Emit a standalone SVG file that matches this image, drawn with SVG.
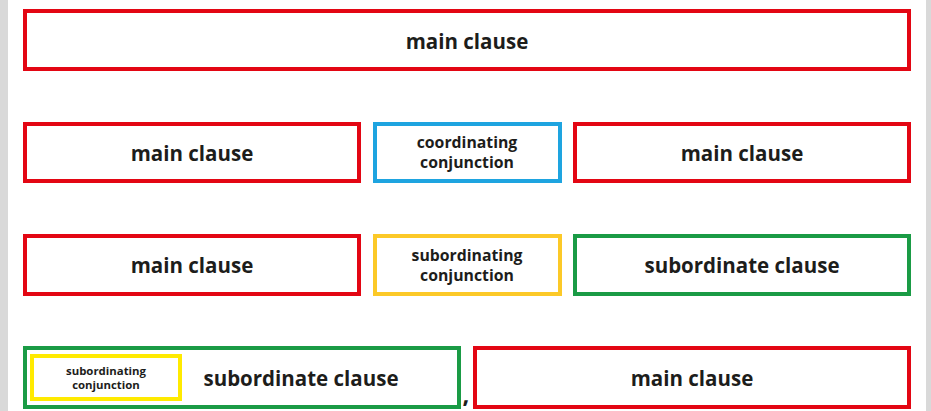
<svg xmlns="http://www.w3.org/2000/svg" width="931" height="411" viewBox="0 0 931 411">
<style>
.box{fill:#fff;stroke-width:4}
.red{stroke:#e30613}
.blue{stroke:#1ea4e0}
.yel{stroke:#fcc928}
.yel2{stroke:#ffea00}
.grn{stroke:#1a9b45}
text{font-family:"Open Sans","Noto Sans",sans-serif;font-weight:700;fill:#1d1d1b;text-anchor:middle}
.big{font-size:20.5px}
.mid{font-size:15.8px}
.sm{font-size:11.4px}
</style>
<rect x="0" y="0" width="931" height="411" fill="#fff"/>
<rect x="0" y="0" width="8" height="411" fill="#d9d9d9"/>
<rect x="926" y="0" width="5" height="411" fill="#d9d9d9"/>
<g id="n1"><rect class="box red" x="25" y="11" width="884" height="58"/><text class="big" x="467" y="49">main clause</text></g>
<g id="n2"><rect class="box red" x="25" y="124" width="334" height="57"/><text class="big" x="192" y="161">main clause</text></g>
<g id="n3"><rect class="box blue" x="375" y="124" width="185" height="57"/><text class="mid" x="467" y="148">coordinating</text><text class="mid" x="467" y="168">conjunction</text></g>
<g id="n4"><rect class="box red" x="575" y="124" width="334" height="57"/><text class="big" x="742" y="161">main clause</text></g>
<g id="n5"><rect class="box red" x="25" y="236" width="334" height="58"/><text class="big" x="192" y="273">main clause</text></g>
<g id="n6"><rect class="box yel" x="375" y="236" width="185" height="58"/><text class="mid" x="467" y="261">subordinating</text><text class="mid" x="467" y="281">conjunction</text></g>
<g id="n7"><rect class="box grn" x="575" y="236" width="334" height="58"/><text class="big" x="742" y="273">subordinate clause</text></g>
<g id="n8"><rect class="box grn" x="25" y="348" width="434" height="59"/><text class="big" x="301" y="386">subordinate clause</text></g>
<g id="n9"><rect class="box yel2" x="32" y="356" width="148" height="43"/><text class="sm" x="106" y="375">subordinating</text><text class="sm" x="106" y="389">conjunction</text></g>
<g id="n10"><rect class="box red" x="475" y="348" width="434" height="59"/><text class="big" x="692" y="386">main clause</text></g>
<g id="comma"><text class="big" x="466" y="403" style="font-size:24px">,</text></g>
<g id="connectors"></g>
</svg>
